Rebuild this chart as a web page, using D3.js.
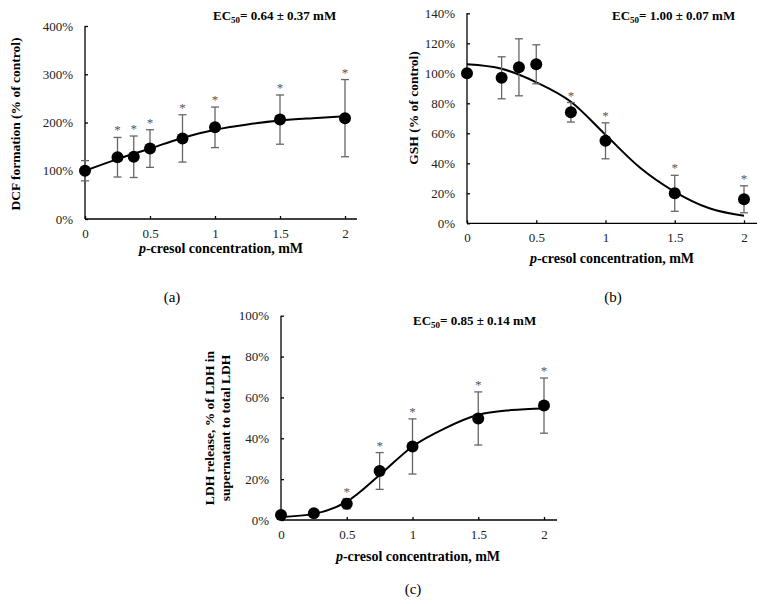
<!DOCTYPE html>
<meta charset="utf-8">
<head>
  <title>p-cresol dose response</title>
</head>
<style>
body { margin: 0; background: #fff; }
svg, svg text { font-family: "Liberation Serif", "Times New Roman", serif; }
.axis { font-family: "Liberation Serif", serif; }
.tick text { font-size: 13px; fill: #222; }
.axis path, .axis line { stroke: #000; stroke-width: 1.3px; }
.fit { fill: none; stroke: #000; stroke-width: 2px; }
.err { stroke: #666; stroke-width: 1.3px; }
.dot { fill: #000; }
.star { fill: #555; font-size: 13px; text-anchor: middle; }
.ytitle, .xtitle, .ec { font-weight: bold; fill: #000; }
</style>
<body>
  <svg width="769" height="604"></svg>
  <script src="https://cdnjs.cloudflare.com/ajax/libs/d3/7.8.5/d3.min.js"></script>
  <script>
// concentrations, mM
var conc = [0, 0.25, 0.375, 0.5, 0.75, 1, 1.5, 2];
var curveX = [0, 0.25, 0.5, 0.75, 1, 1.25, 1.5, 1.75, 2];
var xTicks = [0, 0.5, 1, 1.5, 2];

// (a) DCF formation, % of control
var dcfMean = [100, 128, 129, 146, 167, 190, 206, 209];
var dcfErr = [21, 41, 43, 39, 49, 42, 51, 80];
var dcfStar = [false, true, true, true, true, true, true, true];
var dcfFit = [100, 124, 146, 168, 185, 196, 204, 209, 213];
var dcfTicks = [0, 100, 200, 300, 400];

// (b) GSH, % of control
var gshMean = [100, 97, 104, 106, 74, 55, 20, 16];
var gshErr = [0, 14, 19, 13, 6.5, 12, 12, 9];
var gshStar = [false, false, false, false, true, true, true, true];
var gshFit = [106, 103, 94, 81, 59, 37, 21, 10, 5];
var gshTicks = [0, 20, 40, 60, 80, 100, 120, 140];

// (c) LDH release, %
var ldhConc = [0, 0.25, 0.5, 0.75, 1, 1.5, 2];
var ldhMean = [2.4, 3.3, 8, 24, 36, 49.7, 56];
var ldhErr = [0, 0, 2.5, 9, 13.5, 13, 13.5];
var ldhStar = [false, false, true, true, true, true, true];
var ldhFit = [1.5, 3, 9, 22, 36, 45, 51.5, 53.8, 54.6];
var ldhTicks = [0, 20, 40, 60, 80, 100];

var svg = d3.select('svg');

function panel(o) {
  var x = d3.scaleLinear().domain([0, 2]).range([o.left, o.right]);
  var y = d3.scaleLinear().domain([0, o.ymax]).range([o.bottom, o.top]);
  var g = svg.append('g');

  // y axis, ticks pointing inward
  var ya = g.append('g').attr('class', 'axis')
    .attr('transform', 'translate(' + o.left + ',0)')
    .call(d3.axisRight(y).tickValues(o.yticks).tickSize(3).tickFormat(function(d) { return d + '%'; }));
  ya.attr('font-family', null);
  ya.select('.domain').attr('d', 'M0,' + o.top + 'V' + o.bottom);
  ya.selectAll('.tick text').attr('x', -12).attr('text-anchor', 'end');

  // x axis, ticks pointing up
  var xa = g.append('g').attr('class', 'axis')
    .attr('transform', 'translate(0,' + o.bottom + ')')
    .call(d3.axisTop(x).tickValues(xTicks).tickSize(3).tickFormat(d3.format('')));
  xa.attr('font-family', null);
  xa.select('.domain').attr('d', 'M' + o.left + ',0H' + o.axisEnd);
  xa.selectAll('.tick text').attr('y', 19).attr('dy', 0);

  // fitted curve
  var line = d3.line()
    .x(function(d, i) { return x(curveX[i]); })
    .y(function(d) { return y(d); })
    .curve(d3.curveMonotoneX);
  g.append('path').attr('class', 'fit').attr('d', line(o.fit));

  var pts = o.xs.map(function(c, i) {
    return { c: c, m: o.mean[i], e: o.err[i], s: o.star[i] };
  });

  // error bars
  var eb = g.selectAll('g.eb').data(pts.filter(function(d) { return d.e > 0; }))
    .enter().append('g').classed('eb', true);
  eb.append('line').classed('err', true)
    .attr('x1', function(d) { return x(d.c); }).attr('x2', function(d) { return x(d.c); })
    .attr('y1', function(d) { return y(d.m - d.e); }).attr('y2', function(d) { return y(d.m + d.e); });
  [-1, 1].forEach(function(s) {
    eb.append('line').classed('err', true)
      .attr('x1', function(d) { return x(d.c) - 4; }).attr('x2', function(d) { return x(d.c) + 4; })
      .attr('y1', function(d) { return y(d.m + s * d.e); }).attr('y2', function(d) { return y(d.m + s * d.e); });
  });

  g.selectAll('circle.dot').data(pts).enter().append('circle')
    .classed('dot', true)
    .attr('cx', function(d) { return x(d.c); })
    .attr('cy', function(d) { return y(d.m); })
    .attr('r', 6);

  g.selectAll('text.star').data(pts.filter(function(d) { return d.s; })).enter().append('text')
    .classed('star', true)
    .attr('x', function(d) { return x(d.c); })
    .attr('y', function(d) { return y(d.m + d.e) - 3; })
    .text('*');

  // y title
  var yt = g.append('text').attr('class', 'ytitle')
    .attr('transform', 'translate(' + o.ytx + ',' + o.yty + ') rotate(-90)')
    .attr('text-anchor', 'middle').style('font-size', '13.5px');
  o.ytitle.forEach(function(t, i) {
    yt.append('tspan').attr('x', 0).attr('dy', i === 0 ? 0 : 16).text(t);
  });

  // x title
  var xt = g.append('text').attr('class', 'xtitle')
    .attr('x', o.xtx).attr('y', o.xty).attr('text-anchor', 'middle').style('font-size', '14px');
  xt.append('tspan').style('font-style', 'italic').text('p');
  xt.append('tspan').text('-cresol concentration, mM');

  // EC50
  var ec = g.append('text').attr('class', 'ec')
    .attr('x', o.ecx).attr('y', o.ecy).style('font-size', '13px');
  ec.append('tspan').text('EC');
  ec.append('tspan').attr('dy', 3).style('font-size', '9px').text('50');
  ec.append('tspan').attr('dy', -3).text('= ' + o.ec);

  g.append('text').attr('x', o.labx).attr('y', o.laby).attr('text-anchor', 'middle')
    .style('font-size', '15px').text(o.label);
}

panel({
  left: 85, right: 345, axisEnd: 357, top: 26, bottom: 219, ymax: 400,
  yticks: dcfTicks, xs: conc, mean: dcfMean, err: dcfErr, star: dcfStar, fit: dcfFit,
  ytitle: ['DCF formation (% of control)'], ytx: 20, yty: 124,
  xtx: 221, xty: 253, ecx: 213, ecy: 20, ec: '0.64 \u00b1 0.37 mM',
  label: '(a)', labx: 172, laby: 302
});

panel({
  left: 467, right: 744, axisEnd: 757, top: 13.3, bottom: 223.3, ymax: 140,
  yticks: gshTicks, xs: conc, mean: gshMean, err: gshErr, star: gshStar, fit: gshFit,
  ytitle: ['GSH (% of control)'], ytx: 418, yty: 108,
  xtx: 612, xty: 263, ecx: 612, ecy: 20, ec: '1.00 \u00b1 0.07 mM',
  label: '(b)', labx: 613, laby: 302
});

panel({
  left: 281, right: 544, axisEnd: 557, top: 315.7, bottom: 520, ymax: 100,
  yticks: ldhTicks, xs: ldhConc, mean: ldhMean, err: ldhErr, star: ldhStar, fit: ldhFit,
  ytitle: ['LDH release, % of LDH in', 'supernatant to total LDH'], ytx: 214, yty: 428,
  xtx: 418, xty: 561, ecx: 413, ecy: 325, ec: '0.85 \u00b1 0.14 mM',
  label: '(c)', labx: 413, laby: 594
});
  </script>
</body>
</html>
